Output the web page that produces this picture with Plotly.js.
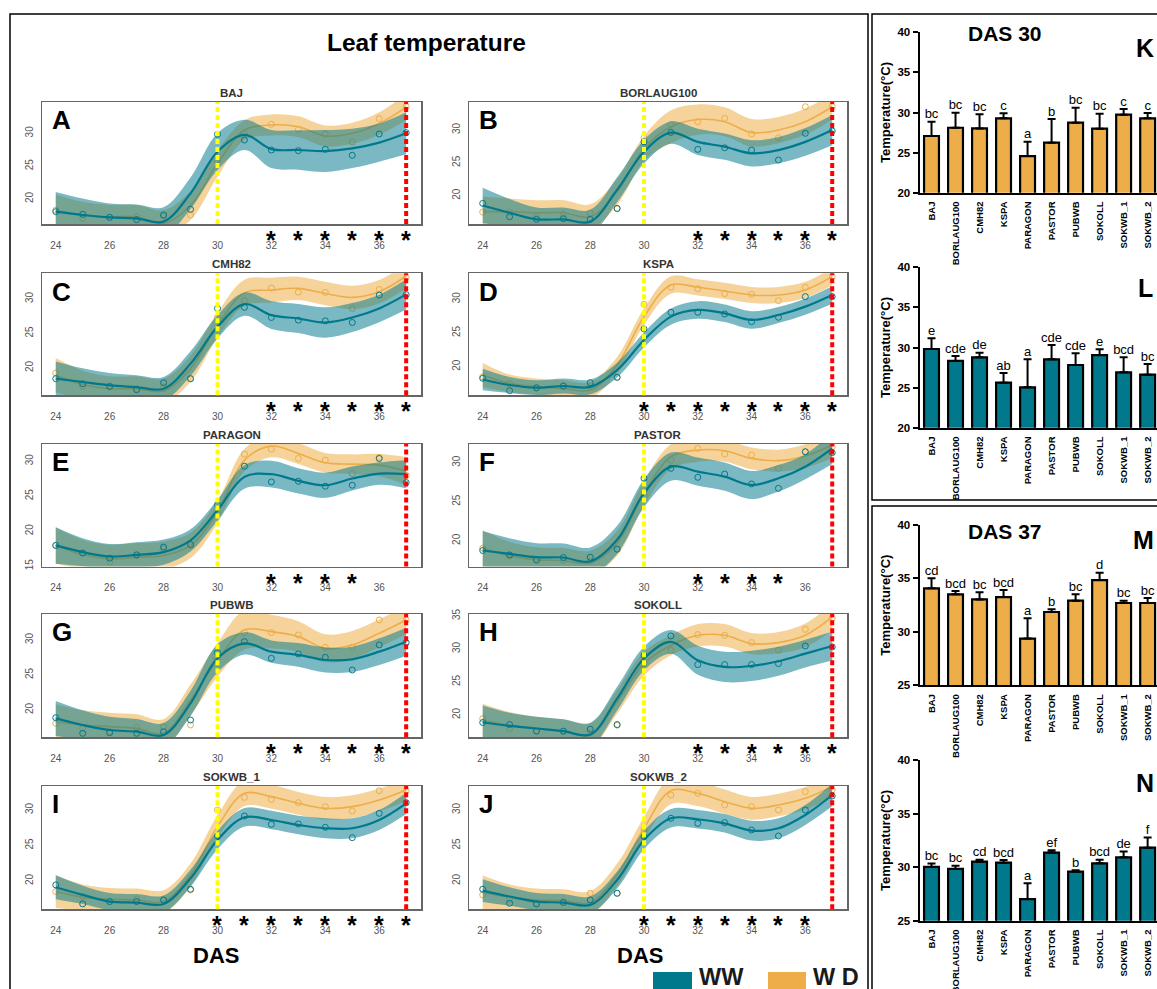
<!DOCTYPE html>
<html><head><meta charset="utf-8">
<script src="https://cdn.plot.ly/plotly-3.0.1.min.js"></script>
<style>body{margin:0;padding:0;background:#fff}#chart{width:1157px;height:989px}</style>
</head><body><div id="chart"></div>
<script>
// ---------------- DATA ----------------
const days = [24,25,26,27,28,29,30,31,32,33,34,35,36,37];
const varieties = ['BAJ','BORLAUG100','CMH82','KSPA','PARAGON','PASTOR','PUBWB','SOKOLL','SOKWB_1','SOKWB_2'];
const panelLetters = ['A','B','C','D','E','F','G','H','I','J'];
const xTickVals = [24,26,28,30,32,34,36];

// BAJ
const BAJ_ww_pts = [18.07,17.66,17.2,16.85,17.56,18.43,29.85,28.98,27.46,27.36,27.56,26.65,29.9,30.1];
const BAJ_ww_fit = [18.07,17.56,17.2,17.05,16.55,20.86,27.2,29.75,27.6,27.46,27.3,27.7,28.58,30.0];
const BAJ_ww_hw  = [3.0,2.5,2.1,2.1,2.2,2.4,2.8,2.3,2.9,3.0,3.2,3.0,2.9,3.2];
const BAJ_wd_pts = [18.3,17.06,17.2,17.3,17.4,17.56,25.8,30.0,31.37,30.6,29.9,28.68,32.23,34.06];
const BAJ_wd_fit = [18.2,17.56,17.3,17.3,16.3,19.0,25.4,30.5,31.27,31.0,29.6,30.0,31.5,34.0];
const BAJ_wd_hw  = [2.5,2.0,1.8,1.8,2.0,2.2,2.0,1.5,1.6,1.6,1.6,1.6,1.7,2.0];
const BAJ_stars  = [32,33,34,35,36,37];
// BORLAUG100
const BORLAUG100_ww_pts = [18.83,16.8,16.4,16.5,16.4,18.07,28.2,29.64,27.06,27.3,26.95,25.43,29.5,29.85];
const BORLAUG100_ww_fit = [18.5,17.4,16.4,16.4,16.05,20.9,26.7,29.6,28.2,27.46,26.45,26.95,28.2,30.0];
const BORLAUG100_ww_hw  = [2.7,2.1,1.8,1.8,1.8,1.9,1.8,1.7,2.0,2.0,2.0,2.0,2.1,2.3];
const BORLAUG100_wd_pts = [17.5,17.5,16.8,17.16,17.4,18.0,28.8,30.86,31.27,31.78,29.4,28.83,33.55,33.55];
const BORLAUG100_wd_fit = [17.56,17.56,17.4,17.4,16.8,20.6,27.2,30.5,31.6,31.27,29.6,30.0,31.27,33.55];
const BORLAUG100_wd_hw  = [2.3,2.0,1.9,1.9,1.9,2.0,1.9,2.5,2.3,2.2,2.1,2.0,2.0,2.0];
const BORLAUG100_stars  = [32,33,34,35,36,37];
// CMH82
const CMH82_ww_pts = [18.45,17.7,17.33,16.84,17.86,18.45,28.64,28.8,27.33,26.94,26.84,26.6,30.58,30.63];
const CMH82_ww_fit = [18.45,17.96,17.47,17.23,16.99,20.63,25.97,29.27,27.67,27.18,26.6,27.33,28.64,30.68];
const CMH82_ww_hw  = [2.5,2.0,1.8,1.7,1.7,1.8,1.7,1.7,2.0,2.1,2.2,2.1,2.0,2.2];
const CMH82_wd_pts = [19.27,17.33,17.23,16.99,17.2,18.4,27.33,29.76,31.6,31.0,30.97,28.64,31.4,33.1];
const CMH82_wd_fit = [18.93,17.6,16.99,16.99,16.65,19.9,26.2,30.9,31.3,31.55,30.8,30.24,31.07,33.35];
const CMH82_wd_hw  = [2.5,2.0,1.8,1.8,1.8,1.9,1.8,1.9,1.8,1.7,1.7,1.7,1.7,1.8];
const CMH82_stars  = [32,33,34,35,36,37];
// KSPA
const KSPA_ww_pts = [18.27,16.44,16.88,17.13,17.62,18.42,25.6,28.07,28.07,27.82,26.68,27.33,30.4,30.4];
const KSPA_ww_fit = [18.1,17.28,16.88,17.13,17.0,19.5,23.96,27.43,28.42,27.92,26.93,27.67,28.91,30.64];
const KSPA_ww_hw  = [1.6,1.2,1.1,1.1,1.1,1.1,1.1,1.2,1.3,1.3,1.3,1.2,1.2,1.3];
const KSPA_wd_pts = [18.5,17.5,16.8,17.1,17.2,18.4,29.26,31.78,31.58,30.84,30.74,29.8,31.78,33.37];
const KSPA_wd_fit = [18.76,17.52,17.03,16.78,16.53,20.25,27.43,32.13,31.78,31.24,30.64,30.64,31.39,33.37];
const KSPA_wd_hw  = [1.8,1.3,1.2,1.2,1.2,1.2,1.2,1.3,1.2,1.2,1.2,1.2,1.2,1.3];
const KSPA_stars  = [30,31,32,33,34,35,36,37];
// PARAGON
const PARAGON_ww_pts = [17.96,16.86,16.14,16.62,17.72,18.1,23.79,29.28,27.04,27.13,26.42,26.56,30.38,26.94];
const PARAGON_ww_fit = [17.96,17.0,16.38,16.62,17.0,18.68,22.98,27.75,28.14,27.18,26.56,27.52,28.23,28.14];
const PARAGON_ww_hw  = [2.6,2.0,1.8,1.8,1.8,1.6,1.5,1.7,1.9,1.8,1.8,1.7,1.6,2.0];
const PARAGON_wd_pts = [17.96,16.9,15.57,16.5,17.48,17.96,22.6,31.0,31.72,30.38,30.14,28.23,30.53,27.99];
const PARAGON_wd_fit = [17.96,16.67,16.05,16.29,16.53,17.96,22.74,30.14,32.15,31.1,29.76,29.57,29.43,28.61];
const PARAGON_wd_hw  = [2.6,2.1,2.0,2.0,2.0,1.8,1.6,1.6,1.6,1.5,1.4,1.4,1.6,2.0];
const PARAGON_stars  = [32,33,34,35];
// PASTOR
const PASTOR_ww_pts = [18.77,18.2,17.57,17.87,17.9,18.94,28.0,29.28,28.13,28.55,27.28,26.72,31.4,31.28];
const PASTOR_ww_fit = [18.77,18.34,17.91,17.87,17.36,20.13,26.09,29.49,28.85,28.21,27.15,28.0,29.49,31.83];
const PASTOR_ww_hw  = [2.5,2.0,1.8,1.8,1.8,1.8,1.8,1.8,1.8,1.8,1.8,1.7,1.6,2.0];
const PASTOR_wd_pts = [19.06,18.1,17.5,17.5,17.4,18.9,25.87,30.34,31.83,31.1,30.98,29.28,31.4,32.04];
const PASTOR_wd_fit = [19.06,18.08,17.57,17.49,17.15,19.7,26.09,30.77,31.62,31.53,30.55,30.26,30.85,32.26];
const PASTOR_wd_hw  = [2.3,1.8,1.6,1.6,1.6,1.6,1.6,1.6,1.5,1.4,1.4,1.4,1.5,1.7];
const PASTOR_stars  = [32,33,34,35];
// PUBWB
const PUBWB_ww_pts = [18.9,16.67,16.76,16.67,16.9,18.57,28.19,29.76,27.38,28.0,27.52,25.71,29.29,29.62];
const PUBWB_ww_fit = [18.8,17.86,17.14,16.9,16.43,20.95,27.38,29.52,28.33,27.86,27.14,27.24,28.33,29.76];
const PUBWB_ww_hw  = [2.5,2.1,1.9,1.8,1.7,1.8,2.0,1.6,1.6,1.7,1.8,1.8,1.9,2.0];
const PUBWB_wd_pts = [18.1,17.38,16.9,17.48,17.62,17.86,27.38,31.05,31.05,30.71,28.95,28.95,32.86,32.86];
const PUBWB_wd_fit = [18.33,17.86,17.62,17.38,16.67,21.43,27.14,31.43,31.19,30.48,28.81,29.29,30.95,32.86];
const PUBWB_wd_hw  = [2.5,2.1,2.0,2.0,2.0,2.2,2.4,2.8,2.4,2.2,2.0,2.0,2.0,2.0];
const PUBWB_stars  = [32,33,34,35,36,37];
// SOKOLL
const SOKOLL_ww_pts = [18.84,18.53,17.53,17.53,17.83,18.53,29.04,31.97,27.63,27.63,27.63,27.78,30.45,30.3];
const SOKOLL_ww_fit = [18.84,18.33,17.93,17.53,17.02,22.47,28.54,31.06,28.28,27.27,27.42,28.13,29.29,30.45];
const SOKOLL_ww_hw  = [2.6,2.0,1.8,1.8,1.8,1.8,1.8,1.8,2.2,2.3,2.3,2.2,2.1,2.2];
const SOKOLL_wd_pts = [19.44,17.93,17.6,17.5,17.3,18.43,27.78,29.8,32.17,32.07,30.96,29.8,32.98,34.7];
const SOKOLL_wd_fit = [19.19,18.43,17.93,17.53,16.92,21.97,27.78,30.56,32.07,32.07,30.81,30.96,32.07,34.85];
const SOKOLL_wd_hw  = [2.5,2.0,1.8,1.8,1.8,1.8,1.8,1.5,1.7,1.7,1.6,1.6,1.8,2.0];
const SOKOLL_stars  = [32,33,34,35,36,37];
// SOKWB_1
const SOKWB_1_ww_pts = [19.44,16.76,17.09,17.09,17.32,18.83,26.34,29.15,27.98,28.03,27.56,26.1,29.53,31.03];
const SOKWB_1_ww_fit = [19.1,18.03,17.09,16.95,16.76,20.38,25.77,28.97,28.59,27.89,27.42,27.42,28.59,30.94];
const SOKWB_1_ww_hw  = [1.7,1.3,1.2,1.2,1.2,1.2,1.3,1.3,1.3,1.3,1.4,1.4,1.4,1.5];
const SOKWB_1_wd_pts = [18.5,17.8,17.1,17.42,17.3,18.73,30.0,31.78,31.5,31.03,30.47,29.86,32.72,32.72];
const SOKWB_1_wd_fit = [18.5,17.7,17.42,17.32,17.09,20.85,27.65,32.35,31.88,30.94,30.23,30.47,31.41,32.82];
const SOKWB_1_wd_hw  = [2.3,1.8,1.6,1.6,1.6,1.6,1.6,1.8,1.7,1.6,1.6,1.6,1.6,1.6];
const SOKWB_1_stars  = [30,31,32,33,34,35,36,37];
// SOKWB_2
const SOKWB_2_ww_pts = [18.83,16.85,16.76,16.95,17.32,18.26,26.24,28.83,28.12,28.22,27.18,26.34,30.0,31.97];
const SOKWB_2_ww_fit = [18.64,17.8,17.09,16.95,16.62,20.14,25.77,28.83,28.69,28.12,27.09,27.42,29.3,32.11];
const SOKWB_2_ww_hw  = [1.6,1.3,1.2,1.2,1.2,1.2,1.3,1.3,1.3,1.3,1.4,1.4,1.4,1.6];
const SOKWB_2_wd_pts = [18.03,17.4,16.76,17.1,18.26,18.26,27.18,32.11,32.35,30.7,30.47,30.0,32.58,32.82];
const SOKWB_2_wd_fit = [18.36,17.7,17.32,17.23,16.95,20.85,27.42,32.72,32.35,31.17,30.23,30.7,31.64,33.29];
const SOKWB_2_wd_hw  = [2.4,1.8,1.6,1.6,1.6,1.6,1.6,1.9,1.8,1.7,1.6,1.6,1.6,1.5];
const SOKWB_2_stars  = [30,31,32,33,34,35,36];

// Bar charts
const barCategories = ['BAJ','BORLAUG100','CMH82','KSPA','PARAGON','PASTOR','PUBWB','SOKOLL','SOKWB_1','SOKWB_2'];
const K_mean = [27.07,28.1,28.02,29.27,24.57,26.24,28.73,27.98,29.73,29.27];
const K_top  = [28.86,29.98,29.77,29.9,26.36,29.19,30.6,29.85,30.44,29.94];
const K_letters = ['bc','bc','bc','c','a','b','bc','bc','c','c'];
const L_mean = [29.81,28.32,28.77,25.61,25.03,28.52,27.82,29.06,26.9,26.61];
const L_top  = [31.14,28.94,29.36,26.82,28.52,30.31,29.27,29.77,28.77,27.94];
const L_letters = ['e','cde','de','ab','a','cde','cde','e','bcd','bc'];
const M_mean = [34.07,33.51,33.04,33.26,29.37,31.86,32.92,34.85,32.7,32.7];
const M_top  = [35.01,33.82,33.7,33.92,31.27,32.11,33.51,35.54,32.92,33.17];
const M_letters = ['cd','bcd','bc','bcd','a','b','bc','d','bc','bc'];
const N_mean = [30.02,29.83,30.51,30.42,27.02,31.36,29.58,30.36,30.92,31.82];
const N_top  = [30.33,30.14,30.7,30.67,28.49,31.57,29.7,30.7,31.45,32.76];
const N_letters = ['bc','bc','cd','bcd','a','ef','b','bcd','de','f'];

// ---------------- BUILD ----------------
const DATA = {
  BAJ:[BAJ_ww_pts,BAJ_ww_fit,BAJ_ww_hw,BAJ_wd_pts,BAJ_wd_fit,BAJ_wd_hw,BAJ_stars],
  BORLAUG100:[BORLAUG100_ww_pts,BORLAUG100_ww_fit,BORLAUG100_ww_hw,BORLAUG100_wd_pts,BORLAUG100_wd_fit,BORLAUG100_wd_hw,BORLAUG100_stars],
  CMH82:[CMH82_ww_pts,CMH82_ww_fit,CMH82_ww_hw,CMH82_wd_pts,CMH82_wd_fit,CMH82_wd_hw,CMH82_stars],
  KSPA:[KSPA_ww_pts,KSPA_ww_fit,KSPA_ww_hw,KSPA_wd_pts,KSPA_wd_fit,KSPA_wd_hw,KSPA_stars],
  PARAGON:[PARAGON_ww_pts,PARAGON_ww_fit,PARAGON_ww_hw,PARAGON_wd_pts,PARAGON_wd_fit,PARAGON_wd_hw,PARAGON_stars],
  PASTOR:[PASTOR_ww_pts,PASTOR_ww_fit,PASTOR_ww_hw,PASTOR_wd_pts,PASTOR_wd_fit,PASTOR_wd_hw,PASTOR_stars],
  PUBWB:[PUBWB_ww_pts,PUBWB_ww_fit,PUBWB_ww_hw,PUBWB_wd_pts,PUBWB_wd_fit,PUBWB_wd_hw,PUBWB_stars],
  SOKOLL:[SOKOLL_ww_pts,SOKOLL_ww_fit,SOKOLL_ww_hw,SOKOLL_wd_pts,SOKOLL_wd_fit,SOKOLL_wd_hw,SOKOLL_stars],
  SOKWB_1:[SOKWB_1_ww_pts,SOKWB_1_ww_fit,SOKWB_1_ww_hw,SOKWB_1_wd_pts,SOKWB_1_wd_fit,SOKWB_1_wd_hw,SOKWB_1_stars],
  SOKWB_2:[SOKWB_2_ww_pts,SOKWB_2_ww_fit,SOKWB_2_ww_hw,SOKWB_2_wd_pts,SOKWB_2_wd_fit,SOKWB_2_wd_hw,SOKWB_2_stars]
};

const W=1157, H=989;
const px = x => x/W, py = y => 1 - y/H;
const FONT = 'Liberation Sans, Arial, sans-serif';
const TEAL='#00798c', ORANGE='#edae49';
const TEAL_BAND='rgba(0,121,140,0.52)', ORANGE_BAND='rgba(237,174,73,0.55)';

const lineCols=[[42,421],[469,847]];
const lineRows=[[102,224],[273.3,395.3],[444,566.5],[614,737.3],[786,909.3]];
const yRanges=[[16.19,34.77],[15.69,34.27],[16.03,33.74],[15.75,33.86],[14.95,32.45],[16.72,32.39],[16.1,33.71],[16.6,35.3],[16.0,33.38],[16.0,33.38]];

const traces=[]; const layout={
  width:W, height:H, margin:{l:0,r:0,t:0,b:0}, paper_bgcolor:'#fff', plot_bgcolor:'#fff',
  showlegend:false, font:{family:FONT}, annotations:[], shapes:[]
};

varieties.forEach((v,i)=>{
  const s=i+1, xa='x'+(s===1?'':s), ya='y'+(s===1?'':s);
  const [wwP,wwF,wwH,wdP,wdF,wdH,stars]=DATA[v];
  const col=lineCols[i%2], row=lineRows[Math.floor(i/2)];
  layout['xaxis'+(s===1?'':s)]={domain:[px(col[0]),px(col[1])], range:[23.49,37.55], anchor:ya,
    tickvals:xTickVals, ticks:'', showline:true, mirror:true, linecolor:'#666', linewidth:1.5,
    showgrid:false, zeroline:false, tickfont:{size:10,color:'#555'}, ticklabelstandoff:11};
  layout['yaxis'+(s===1?'':s)]={domain:[py(row[1]),py(row[0])], range:yRanges[i], anchor:xa,
    dtick:5, tick0:0, ticks:'', showline:true, mirror:true, linecolor:'#666', linewidth:1.5,
    showgrid:false, zeroline:false, tickangle:-90, tickfont:{size:10,color:'#555'}, ticklabelstandoff:4};
  const common={xaxis:xa,yaxis:ya,hoverinfo:'skip',showlegend:false};
  const addSeries=(pts,fit,hw,lineC,bandC,lw)=>{
    traces.push(Object.assign({x:days,y:fit.map((f,k)=>f-hw[k]),mode:'lines',line:{width:0,shape:'spline',color:bandC}},common));
    traces.push(Object.assign({x:days,y:fit.map((f,k)=>f+hw[k]),mode:'lines',fill:'tonexty',fillcolor:bandC,line:{width:0,shape:'spline',color:bandC}},common));
    traces.push(Object.assign({x:days,y:fit,mode:'lines',line:{width:lw,shape:'spline',color:lineC}},common));
    traces.push(Object.assign({x:days,y:pts,mode:'markers',marker:{symbol:'circle-open',size:6,color:lineC,line:{width:1}}},common));
  };
  addSeries(wdP,wdF,wdH,ORANGE,ORANGE_BAND,1.6);
  addSeries(wwP,wwF,wwH,TEAL,TEAL_BAND,2.2);
  layout.shapes.push({type:'line',xref:xa,yref:ya+' domain',x0:30,x1:30,y0:0,y1:1,line:{color:'#ffff00',width:4,dash:'5px,3px'}});
  layout.shapes.push({type:'line',xref:xa,yref:ya+' domain',x0:37,x1:37,y0:0,y1:1,line:{color:'#ff0000',width:4,dash:'5px,3px'}});
  stars.forEach(d=>layout.annotations.push({xref:xa,yref:ya+' domain',x:d,y:0,yanchor:'top',yshift:0,height:16,valign:'top',text:'*',showarrow:false,font:{size:25,color:'#000',weight:'bold',family:FONT}}));
  layout.annotations.push({xref:xa+' domain',yref:ya+' domain',x:0.02,y:0.99,xanchor:'left',yanchor:'top',text:panelLetters[i],showarrow:false,font:{size:26,color:'#000',weight:'bold',family:FONT}});
  layout.annotations.push({xref:xa+' domain',yref:ya+' domain',x:0.5,y:1,yanchor:'bottom',yshift:1,text:v,showarrow:false,font:{size:11.5,color:'#333',weight:'bold',family:FONT}});
});

// Bar panels
const bars=[
  {mean:K_mean,top:K_top,letters:K_letters,color:ORANGE,y:[32.3,192.7],range:[20,40]},
  {mean:L_mean,top:L_top,letters:L_letters,color:TEAL,y:[267.3,427.7],range:[20,40]},
  {mean:M_mean,top:M_top,letters:M_letters,color:ORANGE,y:[525,685.3],range:[25,40]},
  {mean:N_mean,top:N_top,letters:N_letters,color:TEAL,y:[760,920.7],range:[25,40]}
];
bars.forEach((b,j)=>{
  const s=11+j, xa='x'+s, ya='y'+s;
  layout['xaxis'+s]={domain:[px(919.5),1], range:[-0.5,9.39], type:'category', anchor:ya,
    showline:true, linecolor:'#000', linewidth:2, ticks:'', tickangle:-90, showgrid:false, zeroline:false,
    tickfont:{size:9.5,color:'#000',weight:'bold',family:FONT}, ticklabelstandoff:3};
  layout['yaxis'+s]={domain:[py(b.y[1]),py(b.y[0])], range:b.range, anchor:xa, dtick:5,
    showline:true, linecolor:'#000', linewidth:2, ticks:'outside', ticklen:5, tickwidth:2, tickcolor:'#000',
    showgrid:false, zeroline:false, tickfont:{size:11.5,color:'#000',weight:'bold',family:FONT},
    title:{text:'Temperature(°C)', font:{size:13,color:'#000',weight:'bold',family:FONT}, standoff:4}};
  traces.push({type:'bar',x:barCategories,y:b.mean,xaxis:xa,yaxis:ya,width:0.62,
    marker:{color:b.color,line:{color:'#000',width:2.2}},
    error_y:{type:'data',symmetric:false,array:b.top.map((t,k)=>t-b.mean[k]),arrayminus:b.mean.map(()=>0),color:'#000',thickness:2,width:4},
    hoverinfo:'skip',showlegend:false});
  traces.push({type:'scatter',mode:'text',x:barCategories,y:b.top,text:b.letters,textposition:'top center',
    textfont:{size:13,color:'#000',family:FONT},xaxis:xa,yaxis:ya,cliponaxis:false,hoverinfo:'skip',showlegend:false});
});

// Static texts
const A=layout.annotations;
const txt=(x,y,t,size,opts)=>A.push(Object.assign({xref:'paper',yref:'paper',x:px(x),y:py(y),text:t,showarrow:false,
  font:{size:size,color:'#000',weight:'bold',family:FONT},xanchor:'center',yanchor:'middle'},opts||{}));
txt(426,42,'Leaf temperature',24.5);
txt(216,955,'DAS',22);
txt(640,955,'DAS',22);
txt(1005,34,'DAS 30',21);
txt(1005,531,'DAS 37',21);
txt(1134,48,'K',25,{xanchor:'left'});
txt(1136,288,'L',25,{xanchor:'left'});
txt(1131,540,'M',25,{xanchor:'left'});
txt(1134,783,'N',25,{xanchor:'left'});
txt(697,977,'WW',23.5,{xanchor:'left',font:{size:23.5,color:'#1a1a1a',weight:'bold',family:FONT}});
txt(811,977,'W D',23.5,{xanchor:'left',font:{size:23.5,color:'#1a1a1a',weight:'bold',family:FONT}});

// Frames and legend boxes
const S=layout.shapes;
const rect=(x0,y0,x1,y1,o)=>S.push(Object.assign({type:'rect',xref:'paper',yref:'paper',x0:px(x0),x1:px(x1),y0:py(y1),y1:py(y0),line:{color:'#000',width:1.5}},o||{}));
rect(10,14,868,1000);
rect(872,14,1165,500);
rect(872,506,1165,1000);
rect(653,972,692,995,{fillcolor:TEAL,line:{width:0}});
rect(768,972,806,995,{fillcolor:ORANGE,line:{width:0}});

Plotly.newPlot('chart',traces,layout,{staticPlot:true});
</script></body></html>
